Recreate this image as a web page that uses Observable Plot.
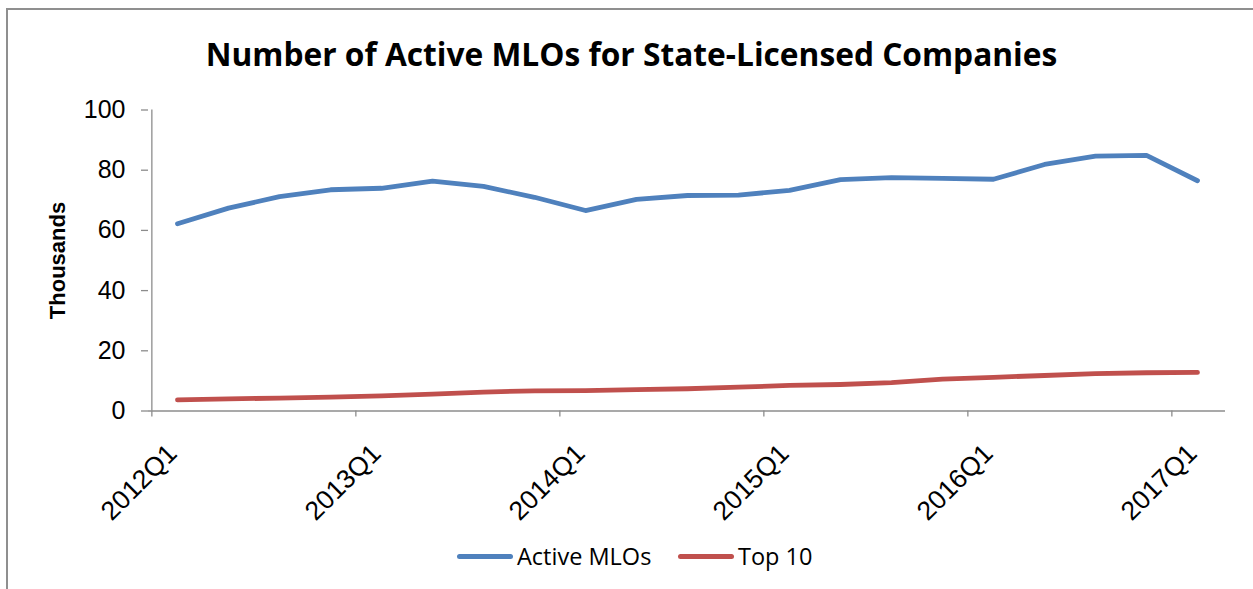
<!DOCTYPE html>
<html>
<head>
<meta charset="utf-8">
<script src="https://cdn.jsdelivr.net/npm/d3@7"></script>
<script src="https://cdn.jsdelivr.net/npm/@observablehq/plot@0.6"></script>
<style>
  html, body { margin: 0; padding: 0; background: #fff; }
  #wrap { position: relative; width: 1253px; height: 589px; overflow: hidden; background: #fff; }
  #border { position: absolute; left: 6px; top: 8px; width: 1400px; height: 800px;
            border-left: 2px solid #8f8f8f; border-top: 2px solid #8f8f8f; }
  #title { position: absolute; left: 0; width: 1253px; top: 38px; text-align: center;
           font-family: "Open Sans", "Noto Sans", sans-serif; font-weight: bold; color: #000;
           line-height: 1; white-space: nowrap; }
  #chart { position: absolute; left: 0; top: 0; }
  #legend { position: absolute; top: 542px; left: 0; width: 1253px; height: 28px;
            font-family: "Open Sans", "Noto Sans", sans-serif; font-size: 23.5px; color: #000; }
  .item { position: absolute; top: 0; height: 28px; display: flex; align-items: center; white-space: nowrap; }
  .sw { width: 56px; height: 5px; border-radius: 3px; margin-right: 4px; }
</style>
</head>
<body>
<div id="wrap">
  <div id="border"></div>
  <div id="chart"></div>
  <div id="title"></div>
  <div id="legend"></div>
</div>
<script>
// ---- data ----
const titleText = "Number of Active MLOs for State-Licensed Companies";
const yLabel = "Thousands";
const quarters = [
  "2012Q1","2012Q2","2012Q3","2012Q4",
  "2013Q1","2013Q2","2013Q3","2013Q4",
  "2014Q1","2014Q2","2014Q3","2014Q4",
  "2015Q1","2015Q2","2015Q3","2015Q4",
  "2016Q1","2016Q2","2016Q3","2016Q4",
  "2017Q1"
];
const activeMLOs = [62.2, 67.4, 71.2, 73.5, 74.0, 76.4, 74.6, 71.0, 66.6, 70.3, 71.6, 71.7, 73.3, 76.9, 77.5, 77.3, 77.0, 81.9, 84.7, 84.9, 76.5];
const top10 = [3.7, 4.0, 4.3, 4.6, 5.0, 5.6, 6.3, 6.7, 6.8, 7.1, 7.4, 7.9, 8.5, 8.8, 9.4, 10.6, 11.2, 11.8, 12.4, 12.7, 12.8];
const seriesNames = ["Active MLOs", "Top 10"];
const seriesColors = ["#4F81BD", "#C0504D"];
const yTicks = [0, 20, 40, 60, 80, 100];
const xTickLabels = ["2012Q1","2013Q1","2014Q1","2015Q1","2016Q1","2017Q1"];

// ---- layout ----
const W = 1253, H = 589;
const mL = 148, mR = 28, mT = 109.5, mB = 178.5;
const step = (W - mL - mR) / quarters.length;
const axisColor = "#8c8c8c";

const rowsA = quarters.map((q, i) => ({q, v: activeMLOs[i]}));
const rowsB = quarters.map((q, i) => ({q, v: top10[i]}));

const chart = Plot.plot({
  width: W, height: H,
  marginLeft: mL, marginRight: mR, marginTop: mT, marginBottom: mB,
  style: {fontFamily: "'Liberation Sans', Arial, sans-serif", background: "transparent", overflow: "visible"},
  x: {type: "point", domain: quarters, padding: 0.5, axis: null},
  y: {domain: [0, 100], axis: null},
  marks: [
    // y axis: line, ticks, labels
    Plot.ruleX([quarters[0]], {y1: 0, y2: 100, dx: -step / 2, stroke: axisColor, strokeWidth: 1.3}),
    Plot.axisY(yTicks, {tickSize: 7, tickFormat: () => "", stroke: axisColor, strokeWidth: 1.3, label: null}),
    Plot.text(yTicks, {y: d => d, text: d => String(d), frameAnchor: "left", textAnchor: "end", dx: -23, fontSize: 25, fill: "#000"}),
    Plot.text([yLabel], {frameAnchor: "left", textAnchor: "middle", dx: -91, rotate: -90, fontSize: 22, fontWeight: "bold", fill: "#000"}),
    // x axis: baseline, boundary ticks, labels
    Plot.ruleY([0], {stroke: axisColor, strokeWidth: 1.3}),
    Plot.ruleX(xTickLabels, {x: d => d, y1: 0, y2: -2, dx: -step / 2, stroke: axisColor, strokeWidth: 1.3}),
    Plot.text(xTickLabels, {x: d => d, y: 0, text: d => d, rotate: -45, textAnchor: "end", fontSize: 26.5, fill: "#000", dx: -5, dy: 38}),
    // series
    Plot.lineY(rowsA, {x: "q", y: "v", stroke: seriesColors[0], strokeWidth: 4.8, strokeLinecap: "round", strokeLinejoin: "round"}),
    Plot.lineY(rowsB, {x: "q", y: "v", stroke: seriesColors[1], strokeWidth: 4.8, strokeLinecap: "round", strokeLinejoin: "round"})
  ]
});
document.getElementById("chart").appendChild(chart);

// title, sized to the reference width
const titleEl = document.getElementById("title");
titleEl.textContent = titleText;
const ctx = document.createElement("canvas").getContext("2d");
ctx.font = "bold 30px 'Open Sans'";
const tw = ctx.measureText(titleText).width;
titleEl.style.fontSize = (30 * 852 / tw).toFixed(2) + "px";
titleEl.style.left = "5px";

// legend
const legend = document.getElementById("legend");
const legendLeft = [457, 678];
seriesNames.forEach((name, i) => {
  const item = document.createElement("div");
  item.className = "item";
  item.style.left = legendLeft[i] + "px";
  const sw = document.createElement("div");
  sw.className = "sw";
  sw.style.background = seriesColors[i];
  const label = document.createElement("span");
  label.textContent = name;
  item.appendChild(sw);
  item.appendChild(label);
  legend.appendChild(item);
});
</script>
</body>
</html>
